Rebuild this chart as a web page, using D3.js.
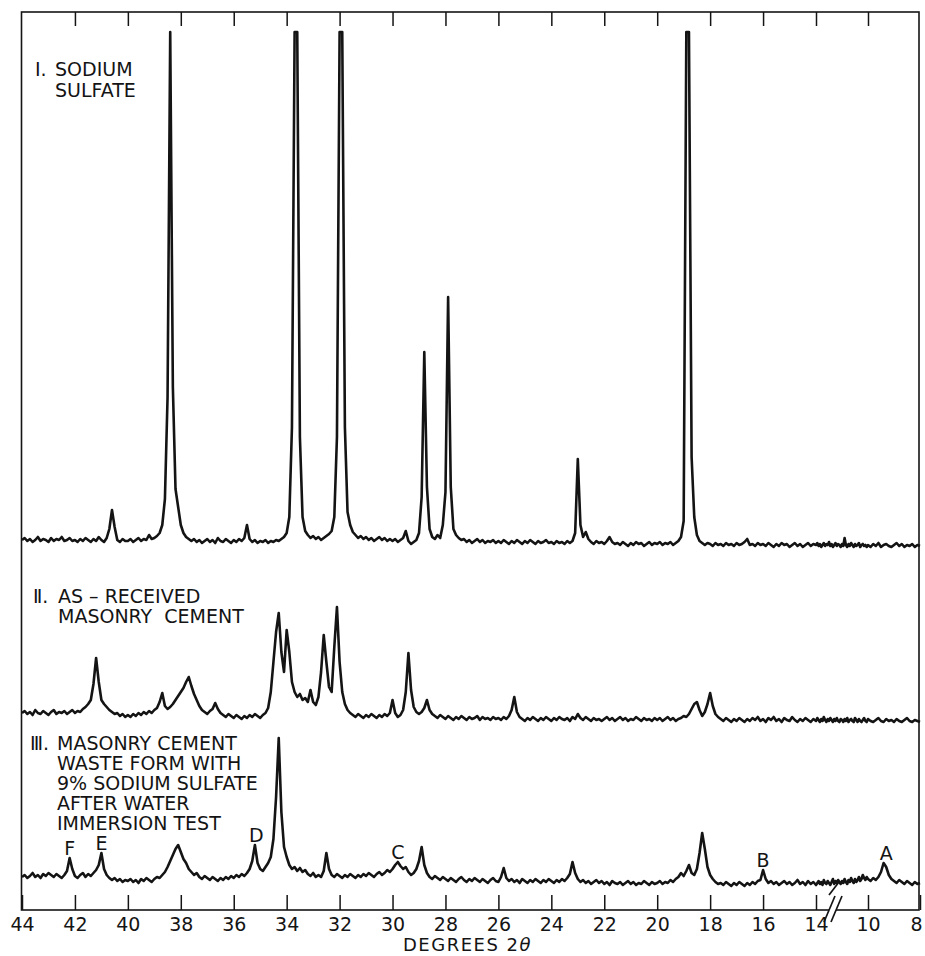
<!DOCTYPE html>
<html>
<head>
<meta charset="utf-8">
<script src="https://cdn.jsdelivr.net/npm/d3@7"></script>
<style>
body { margin: 0; background: #fff; }
svg text { font-family: "DejaVu Sans", sans-serif; fill: #141414; }
</style>
</head>
<body>
<svg width="925" height="956"></svg>
<script>
var thetaStart = 44, thetaStep = 0.1;

var sodiumSulfate = [
	7,9,6,8,5,7,10,6,8,7,5,9,6,8,7,10,6,7,9,6,
	7,5,8,6,9,7,5,8,6,10,7,5,9,18,37,20,7,5,8,6,
	6,8,5,7,9,6,8,7,12,8,9,11,14,22,48,150,515,160,58,40,
	22,14,10,8,6,8,5,7,4,6,8,5,7,4,9,6,5,8,6,4,
	7,5,8,6,9,22,8,5,7,4,6,5,7,4,6,5,7,6,8,10,
	14,30,120,515,515,110,30,16,12,9,11,8,10,7,9,11,13,16,30,110,
	515,515,120,35,22,15,12,9,11,8,10,7,9,6,8,10,7,9,6,8,
	6,8,5,7,9,16,6,3,5,7,14,50,195,60,18,10,8,12,9,22,
	55,250,60,18,12,9,7,8,5,7,4,6,8,5,7,4,6,5,7,4,
	6,4,7,5,3,6,4,7,5,3,6,4,7,5,3,6,4,5,7,4,
	5,3,6,4,5,3,6,4,6,14,88,22,10,15,8,5,3,6,4,5,
	3,6,10,5,3,4,2,5,3,1,4,2,5,3,4,1,3,5,2,4,
	3,5,2,4,3,5,2,4,6,10,26,515,515,90,30,12,6,4,2,4,
	3,1,4,2,3,1,4,2,3,1,4,2,3,5,8,2,3,1,4,2,
	3,1,4,2,0,3,1,4,2,3,0,2,4,1,3,0,2,4,1,3,
	2,4,1,3,0,2,4,1,3,2,5,1,3,0,2,4,1,3,2,0,
	3,1,9,2,0,3,1,4,2,0,3,1,2,4,0,2,3,1,2,0,
	2,0,3,1,4,0,2,3,1,0,2,4,1,3,0,2,1,3,0,2,
	1
];

var asReceived = [
	9,11,8,10,7,12,9,8,11,9,7,10,12,8,10,9,11,8,10,12,
	9,11,10,13,15,18,22,38,64,40,22,18,15,12,10,8,9,6,8,5,
	7,5,8,6,9,7,10,8,11,9,12,14,20,29,16,13,15,18,22,26,
	30,34,40,45,36,28,22,16,12,10,8,11,13,19,13,9,7,5,8,6,
	4,7,5,3,6,4,7,5,8,6,4,7,9,14,30,60,90,109,70,50,
	92,70,40,30,25,28,22,24,20,32,20,17,25,50,87,60,35,30,75,115,
	60,30,18,12,9,7,5,8,6,4,7,5,8,6,4,7,5,8,6,9,
	22,9,5,7,12,30,69,32,15,10,8,10,14,22,12,8,6,4,7,5,
	3,6,4,2,5,3,6,4,2,5,3,4,6,2,5,3,4,2,5,3,
	4,2,5,3,6,12,25,10,5,3,1,4,2,5,3,1,4,2,5,3,
	1,4,2,5,3,2,4,1,5,3,8,4,2,5,3,1,4,2,3,1,
	3,5,2,4,1,3,5,2,4,1,3,2,5,3,1,4,2,3,1,4,
	2,4,1,3,5,2,4,1,3,4,6,5,8,13,18,20,12,6,10,18,
	29,16,8,5,3,1,4,2,0,3,1,4,2,0,3,1,4,2,5,1,
	3,0,4,2,5,1,3,0,4,2,1,5,2,0,3,1,4,2,0,3,
	1,4,2,0,3,1,5,2,0,3,1,4,2,0,3,1,4,1,0,3,
	2,0,3,1,4,0,2,3,1,0,4,2,0,3,1,0,2,4,1,0,
	3,1,0,2,4,1,0,3,1,2,0,3,1,0,2,4,1,0,2,1,
	0
];

var wasteForm = [
	10,12,9,11,14,10,12,9,13,11,14,12,10,13,11,9,12,16,29,18,
	11,9,12,14,10,13,11,14,17,22,34,18,12,9,7,9,6,8,5,7,
	6,8,5,7,4,8,6,9,7,5,8,10,9,12,15,20,26,32,38,42,
	35,28,24,18,15,12,14,10,8,11,9,7,10,8,6,9,7,10,8,11,
	9,12,10,13,11,14,18,26,42,24,18,16,20,24,30,48,90,149,75,40,
	30,22,18,20,16,19,15,17,13,11,14,10,12,10,16,34,18,12,10,13,
	11,9,12,10,13,11,9,12,10,13,11,14,12,10,13,15,12,14,17,15,
	18,22,25,21,18,20,15,12,14,18,26,40,22,14,10,8,11,9,7,10,
	8,6,9,7,5,8,10,7,5,8,6,9,7,5,8,6,4,7,9,6,
	5,10,19,9,6,8,5,7,4,8,6,4,7,5,8,6,4,7,5,8,
	6,4,7,5,8,6,9,13,25,14,8,5,7,4,6,3,5,7,4,6,
	3,5,2,6,4,3,5,2,4,6,3,5,2,4,3,6,4,2,5,3,
	4,6,3,5,4,7,5,8,10,14,11,16,22,14,12,18,34,54,38,20,
	12,8,5,3,4,2,5,3,1,4,2,5,3,1,4,2,5,3,6,7,
	17,8,4,6,3,5,2,4,6,3,5,2,4,7,3,5,2,6,3,5,
	2,4,6,3,5,2,7,4,3,6,4,2,5,8,3,6,4,7,5,3,
	6,4,8,5,3,7,5,9,6,4,8,5,7,10,6,8,12,9,7,10,
	8,6,9,7,10,15,24,20,12,8,6,4,7,5,3,6,4,2,5,3,
	4
];

var tickValues = [44,42,40,38,36,34,32,30,28,26,24,22,20,18,16,14,10,8];
var peakLetters = ["F","E","D","C","B","A"];
var peakTheta = [42.2, 41.0, 35.15, 29.8, 16.0, 9.3];

var labelI = ["SODIUM", "SULFATE"];
var labelII = ["AS \u2013 RECEIVED", "MASONRY  CEMENT"];
var labelIII = ["MASONRY CEMENT", "WASTE FORM WITH", "9% SODIUM SULFATE", "AFTER WATER", "IMMERSION TEST"];

var svg = d3.select("svg");
var ink = "#141414";

// x axis is broken between 14 and 10
var x = d3.scaleLinear()
	.domain([44, 14, 10, 8])
	.range([22, 816, 868, 920]);

function theta(i) { return thetaStart - i * thetaStep; }

var panels = [
	{ values: sodiumSulfate, base: 547 },
	{ values: asReceived, base: 722 },
	{ values: wasteForm, base: 887 }
];

panels.forEach(function(p) {
	var top = d3.max(p.values);
	p.y = d3.scaleLinear().domain([0, top]).range([p.base, p.base - top]);
	var line = d3.line()
		.x(function(d, i) { return x(theta(i)); })
		.y(function(d) { return p.y(d); });
	svg.append("path")
		.datum(p.values)
		.attr("d", line)
		.attr("fill", "none")
		.attr("stroke", ink)
		.attr("stroke-width", 2.6)
		.attr("stroke-linejoin", "round");
});

// frame
svg.append("rect")
	.attr("x", 21.5).attr("y", 12)
	.attr("width", 897.5).attr("height", 898)
	.attr("fill", "none")
	.attr("stroke", ink)
	.attr("stroke-width", 1.6);

var bottom = svg.append("g")
	.attr("transform", "translate(0,910)")
	.call(d3.axisBottom(x)
		.tickValues(tickValues)
		.tickSizeInner(-15)
		.tickSizeOuter(0)
		.tickPadding(8)
		.tickFormat(d3.format("d")));
bottom.select(".domain").remove();
bottom.attr("color", ink)
	.attr("font-family", "DejaVu Sans, sans-serif")
	.attr("font-size", 19);
bottom.selectAll("line").attr("stroke-width", 1.5);
// last label sits against the page edge
bottom.selectAll(".tick text").filter(function(d) { return d === 8; }).attr("dx", -4);

var topAxis = svg.append("g")
	.attr("transform", "translate(0,12)")
	.call(d3.axisTop(x)
		.tickValues(tickValues.slice(1, -1))
		.tickSizeInner(-14)
		.tickSizeOuter(0)
		.tickFormat(""));
topAxis.select(".domain").remove();
topAxis.attr("color", ink);
topAxis.selectAll("line").attr("stroke-width", 1.5);

// break marks on the axis and on trace III
svg.append("rect")
	.attr("x", 829).attr("y", 906).attr("width", 7).attr("height", 8)
	.attr("fill", "#fff");
[[824, 922, 835, 896], [831, 922, 842, 896], [829, 895, 839, 882]].forEach(function(s) {
	svg.append("line")
		.attr("x1", s[0]).attr("y1", s[1]).attr("x2", s[2]).attr("y2", s[3])
		.attr("stroke", ink).attr("stroke-width", 1.7);
});

svg.append("text")
	.attr("x", 403).attr("y", 951)
	.attr("font-size", 18)
	.attr("letter-spacing", 1.5)
	.text("DEGREES 2")
	.append("tspan")
	.attr("font-style", "italic")
	.text("\u03b8");

// sample labels
function block(numeral, nx, lines, lx, y0, step) {
	svg.append("text").attr("x", nx).attr("y", y0).attr("font-size", 19).text(numeral);
	lines.forEach(function(t, i) {
		svg.append("text")
			.attr("x", lx).attr("y", y0 + i * step)
			.attr("font-size", 19)
			.attr("xml:space", "preserve")
			.style("white-space", "pre")
			.text(t);
	});
}
block("\u2160.", 35, labelI, 55, 76, 21);
block("\u2161.", 33, labelII, 58, 603, 20);
block("\u2162.", 30, labelIII, 57, 750, 20);

// peak letters above trace III
peakLetters.forEach(function(l, k) {
	var t = peakTheta[k];
	var i0 = Math.round((thetaStart - t) / thetaStep);
	var v = d3.max(wasteForm.slice(Math.max(0, i0 - 1), i0 + 2));
	svg.append("text")
		.attr("x", x(t)).attr("y", panels[2].y(v) - 3)
		.attr("text-anchor", "middle")
		.attr("font-size", 19)
		.text(l);
});
</script>
</body>
</html>
